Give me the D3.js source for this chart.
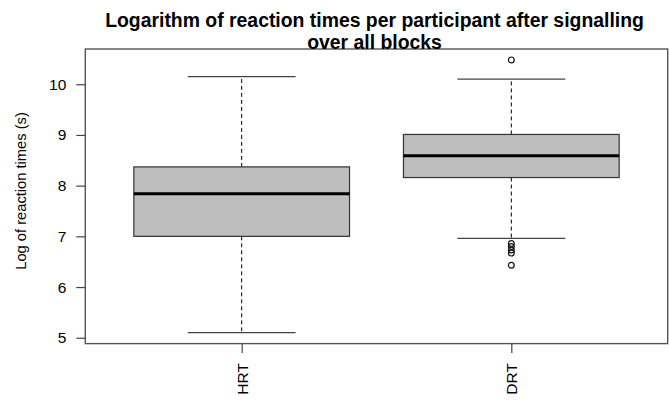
<!DOCTYPE html>
<html>
<head>
<meta charset="utf-8">
<script src="https://cdn.jsdelivr.net/npm/d3@7"></script>
<style>
  html, body { margin: 0; padding: 0; background: #fff; }
  svg { display: block; }
  text { font-family: "Liberation Sans", Arial, sans-serif; fill: #000; }
</style>
</head>
<body>
<svg id="chart" width="669" height="403"></svg>
<script>
// Box statistics per group (log reaction time)
const categories   = ["HRT", "DRT"];
const whiskerLow   = [5.10, 6.96];
const quartile1    = [7.00, 8.16];
const medians      = [7.84, 8.59];
const quartile3    = [8.37, 9.01];
const whiskerHigh  = [10.15, 10.10];
const outliersHRT  = [];
const outliersDRT  = [10.48, 6.86, 6.80, 6.73, 6.67, 6.43];
const yTicks       = [5, 6, 7, 8, 9, 10];

const titleLines = ["Logarithm of reaction times per participant after signalling", "over all blocks"];
const yLabel = "Log of reaction times (s)";

const outliers = [outliersHRT, outliersDRT];
const boxes = categories.map((c, i) => ({
  name: c, pos: i + 1,
  lo: whiskerLow[i], q1: quartile1[i], med: medians[i], q3: quartile3[i], hi: whiskerHigh[i],
  out: outliers[i]
}));

const svg = d3.select("#chart");
const plot = { left: 85.3, right: 667.7, top: 49, bottom: 343.6 };

// y range padded by 4% of the data range on each side
const allVals = whiskerLow.concat(whiskerHigh, outliersHRT, outliersDRT);
const yMin = d3.min(allVals), yMax = d3.max(allVals);
const pad = (yMax - yMin) * 0.04;
const y = d3.scaleLinear().domain([yMin - pad, yMax + pad]).range([plot.bottom, plot.top]);

// group positions 1..n, with half-unit margins padded by 4%
const xLo = 0.5, xHi = categories.length + 0.5;
const xPad = (xHi - xLo) * 0.04;
const x = d3.scaleLinear().domain([xLo - xPad, xHi + xPad]).range([plot.left, plot.right]);

const boxHalf = x(1.4) - x(1);       // half of a 0.8-wide box
const capHalf = boxHalf / 2;

const g = svg.append("g");

boxes.forEach(b => {
  const cx = x(b.pos);
  // dashed whiskers
  g.append("line").attr("x1", cx).attr("x2", cx).attr("y1", y(b.q3)).attr("y2", y(b.hi))
    .attr("stroke", "#000").attr("stroke-width", 1).attr("stroke-dasharray", "4,3");
  g.append("line").attr("x1", cx).attr("x2", cx).attr("y1", y(b.q1)).attr("y2", y(b.lo))
    .attr("stroke", "#000").attr("stroke-width", 1).attr("stroke-dasharray", "4,3");
  // staples
  [b.lo, b.hi].forEach(v => {
    g.append("line").attr("x1", cx - capHalf).attr("x2", cx + capHalf)
      .attr("y1", y(v)).attr("y2", y(v))
      .attr("stroke", "#444").attr("stroke-width", 1.3);
  });
  // box
  g.append("rect").attr("x", cx - boxHalf).attr("width", 2 * boxHalf)
    .attr("y", y(b.q3)).attr("height", y(b.q1) - y(b.q3))
    .attr("fill", "#bebebe").attr("stroke", "#333").attr("stroke-width", 1.2);
  // median
  g.append("line").attr("x1", cx - boxHalf).attr("x2", cx + boxHalf)
    .attr("y1", y(b.med)).attr("y2", y(b.med))
    .attr("stroke", "#000").attr("stroke-width", 3);
  // outliers
  g.selectAll(null).data(b.out).enter().append("circle")
    .attr("cx", cx).attr("cy", d => y(d)).attr("r", 2.9)
    .attr("fill", "none").attr("stroke", "#111").attr("stroke-width", 1.2);
});

// frame
svg.append("rect").attr("x", plot.left).attr("y", plot.top)
  .attr("width", plot.right - plot.left).attr("height", plot.bottom - plot.top)
  .attr("fill", "none").attr("stroke", "#555").attr("stroke-width", 1.4);

// y axis
const yAxis = d3.axisLeft(y).tickValues(yTicks).tickSize(9).tickPadding(10).tickFormat(d3.format("d"));
const ya = svg.append("g").attr("transform", `translate(${plot.left},0)`).call(yAxis);
ya.select(".domain").remove();
ya.selectAll(".tick line").attr("stroke", "#444").attr("stroke-width", 1.2);
ya.selectAll(".tick text").attr("font-size", 15.5).attr("font-family", "Liberation Sans, Arial, sans-serif").attr("fill", "#000");

// x axis with rotated category labels
const xAxis = d3.axisBottom(x).tickValues(boxes.map(b => b.pos)).tickSize(9)
  .tickFormat((d, i) => categories[i]);
const xa = svg.append("g").attr("transform", `translate(0,${plot.bottom + 0.5})`).call(xAxis);
xa.select(".domain").remove();
xa.selectAll(".tick line").attr("stroke", "#444").attr("stroke-width", 1.2);
xa.selectAll(".tick text")
  .attr("font-size", 15.5).attr("font-family", "Liberation Sans, Arial, sans-serif").attr("fill", "#000")
  .attr("transform", "rotate(-90)")
  .attr("text-anchor", "end").attr("x", -19).attr("y", 0).attr("dy", "0.35em");

// y label
svg.append("text")
  .attr("transform", "translate(26,191) rotate(-90)")
  .attr("text-anchor", "middle").attr("font-size", 14.7)
  .text(yLabel);

// title
const cxTitle = (plot.left + plot.right) / 2 - 2;
const title = svg.append("g");
titleLines.forEach((t, i) => {
  title.append("text").attr("x", cxTitle).attr("y", 26.7 + i * 22)
    .attr("text-anchor", "middle").attr("font-weight", "bold").attr("font-size", 19.4)
    .text(t);
});
</script>
</body>
</html>
